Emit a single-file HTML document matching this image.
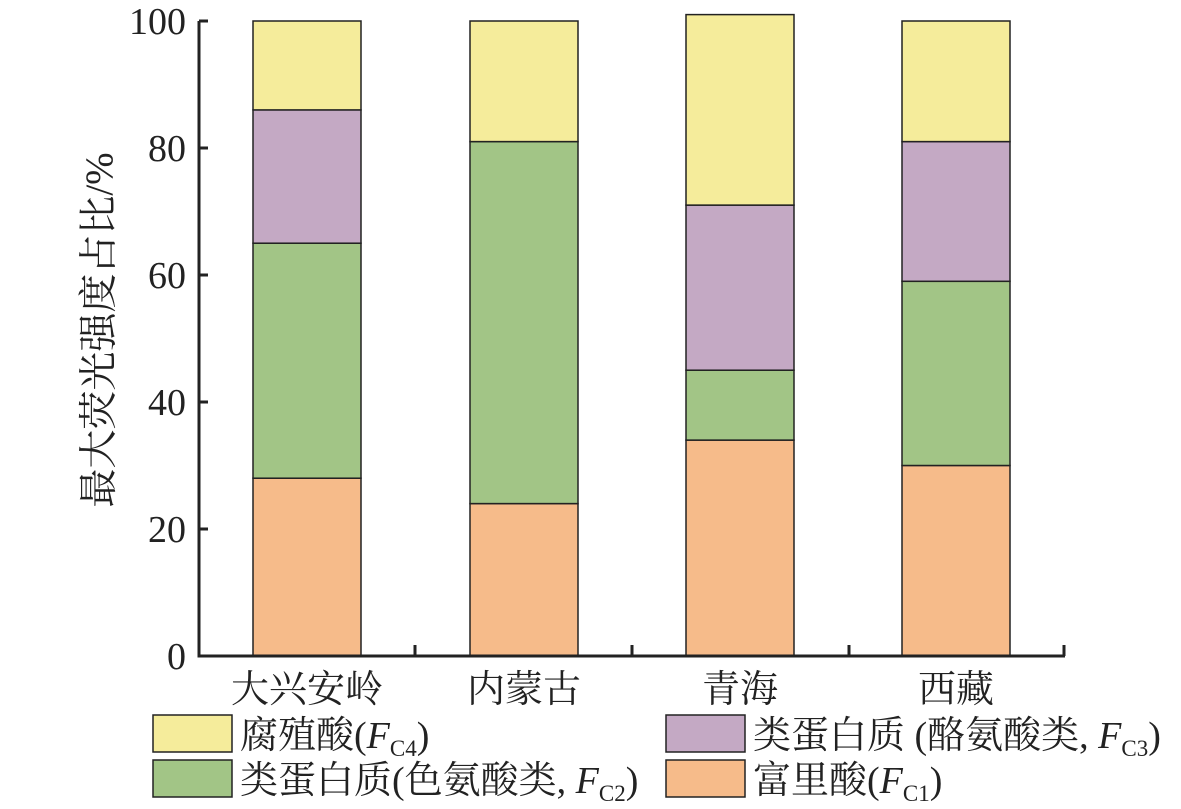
<!DOCTYPE html><html><head><meta charset="utf-8"><style>body{margin:0;background:#fff}</style></head><body>
<svg width="1181" height="804" xmlns="http://www.w3.org/2000/svg" font-family="'Liberation Serif','Noto Serif CJK SC',serif" fill="#222">
<g stroke="#222" stroke-width="1.5">
<rect x="253" y="478.2" width="108" height="177.8" fill="#f6bb8a"/>
<rect x="253" y="243.2" width="108" height="235" fill="#a2c586"/>
<rect x="253" y="109.9" width="108" height="133.3" fill="#c4a9c4"/>
<rect x="253" y="21" width="108" height="88.9" fill="#f5ec9b"/>
<rect x="470" y="503.6" width="108" height="152.4" fill="#f6bb8a"/>
<rect x="470" y="141.6" width="108" height="362" fill="#a2c586"/>
<rect x="470" y="21" width="108" height="120.6" fill="#f5ec9b"/>
<rect x="686" y="440.1" width="108" height="215.9" fill="#f6bb8a"/>
<rect x="686" y="370.2" width="108" height="69.9" fill="#a2c586"/>
<rect x="686" y="205.1" width="108" height="165.1" fill="#c4a9c4"/>
<rect x="686" y="14.6" width="108" height="190.5" fill="#f5ec9b"/>
<rect x="902" y="465.5" width="108" height="190.5" fill="#f6bb8a"/>
<rect x="902" y="281.3" width="108" height="184.2" fill="#a2c586"/>
<rect x="902" y="141.6" width="108" height="139.7" fill="#c4a9c4"/>
<rect x="902" y="21" width="108" height="120.6" fill="#f5ec9b"/>
</g>
<g stroke="#222" stroke-width="3" fill="none">
<path d="M199 21V656H1065"/>
<path d="M415 656v-11M632 656v-11M849 656v-11M1064 656v-11"/>
<path d="M199 21h9M199 148h9M199 275h9M199 402h9M199 529h9"/>
</g>
<g font-size="38" text-anchor="end">
<text x="186" y="669">0</text><text x="186" y="542">20</text><text x="186" y="415">40</text><text x="186" y="288">60</text><text x="186" y="161">80</text><text x="186" y="34">100</text>
</g>
<g font-size="38" text-anchor="middle">
<text x="307" y="702">大兴安岭</text><text x="524" y="702">内蒙古</text><text x="740" y="702">青海</text><text x="956" y="702">西藏</text>
</g>
<text transform="translate(112,330) rotate(-90)" font-size="39" text-anchor="middle">最大荧光强度占比/%</text>
<g stroke="#222" stroke-width="1.5">
<rect x="153" y="715" width="79" height="37" fill="#f5ec9b"/>
<rect x="153" y="760" width="79" height="37" fill="#a2c586"/>
<rect x="666" y="715" width="79" height="37" fill="#c4a9c4"/>
<rect x="666" y="760" width="79" height="37" fill="#f6bb8a"/>
</g>
<g font-size="38">
<text x="240" y="748">腐殖酸(<tspan font-style="italic">F</tspan><tspan font-size="23" dy="8">C4</tspan><tspan dy="-8">)</tspan></text>
<text x="240" y="793">类蛋白质(色氨酸类, <tspan font-style="italic">F</tspan><tspan font-size="23" dy="8">C2</tspan><tspan dy="-8">)</tspan></text>
<text x="753" y="748">类蛋白质 (酪氨酸类, <tspan font-style="italic">F</tspan><tspan font-size="23" dy="8">C3</tspan><tspan dy="-8">)</tspan></text>
<text x="753" y="793">富里酸(<tspan font-style="italic">F</tspan><tspan font-size="23" dy="8">C1</tspan><tspan dy="-8">)</tspan></text>
</g>
</svg></body></html>
